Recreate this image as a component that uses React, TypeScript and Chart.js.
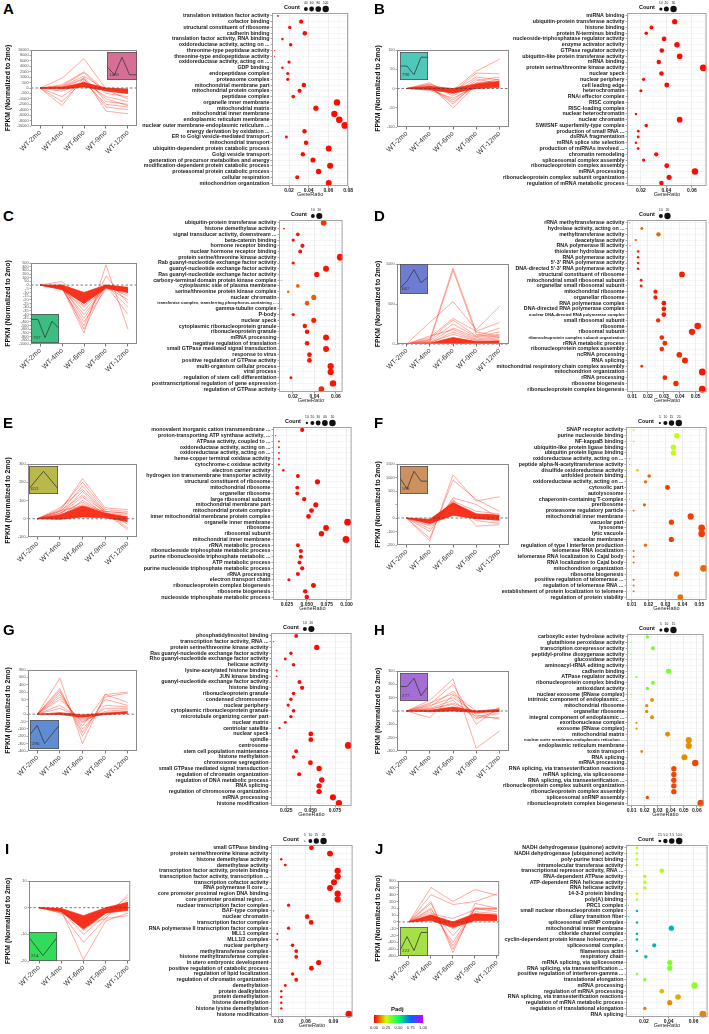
import React, { useEffect, useRef } from "react";
import { Chart, registerables } from "chart.js";
Chart.register(...registerables);

const FONT = "'Liberation Sans', Arial, Helvetica, sans-serif";
const timePoints = ["WT-2mo", "WT-4mo", "WT-6mo", "WT-9mo", "WT-12mo"];
const yTitle = "FPKM (Normalized to 2mo)";

// ---------------- Panel A ----------------
const aYTicks = [-10000, -8000, -6000, -4000, -2000, -1000, -500, 0, 500, 1000, 2000, 4000, 6000, 8000, 10000];
const aLines = [
  [0, 900, 6800, -100, -300],
  [0, 300, 2000, -300, -500],
  [0, 200, 1800, -500, -800],
  [0, -2500, 1000, -1500, -2000],
  [0, 100, 900, -4500, -5500],
  [0, -1500, 700, -3000, -4000],
  [0, -800, 600, -2000, -3000],
  [0, 50, 800, -1000, -2500],
  [0, -300, 500, -800, -1500],
  [0, 150, 1200, -200, -1000],
];
const aBandHigh = [0, 60, 500, 0, -100];
const aBandLow = [0, -100, 100, -250, -500];
const aProfile = [0, -1, 1.2, -1, -1];
const aProfileId = "1480";
const aTerms = [
  "translation initiation factor activity", "cofactor binding", "structural constituent of ribosome", "cadherin binding",
  "translation factor activity, RNA binding", "oxidoreductase activity, acting on ...", "threonine-type peptidase activity",
  "threonine-type endopeptidase activity", "oxidoreductase activity, acting on ...", "GDP binding", "endopeptidase complex",
  "proteasome complex", "mitochondrial membrane part", "mitochondrial protein complex", "peptidase complex",
  "organelle inner membrane", "mitochondrial matrix", "mitochondrial inner membrane", "endoplasmic reticulum membrane",
  "nuclear outer membrane-endoplasmic reticulum ...", "energy derivation by oxidation ...", "ER to Golgi vesicle-mediated transport",
  "mitochondrial transport", "ubiquitin-dependent protein catabolic process", "Golgi vesicle transport",
  "generation of precursor metabolites and energy", "modification-dependent protein catabolic process",
  "proteasomal protein catabolic process", "cellular respiration", "mitochondrion organization",
];
const aRatio = [0.0087, 0.0323, 0.0207, 0.036, 0.0133, 0.0217, 0.0053, 0.0053, 0.02, 0.0133, 0.0187, 0.0187, 0.035, 0.0307, 0.0243, 0.0687, 0.0473, 0.066, 0.071, 0.0767, 0.0357, 0.0173, 0.0373, 0.0603, 0.034, 0.0443, 0.0617, 0.05, 0.0283, 0.0603];
const aPadj = [0.01, 0.01, 0.01, 0.01, 0.01, 0.01, 0.01, 0.01, 0.01, 0.01, 0.01, 0.01, 0.01, 0.01, 0.01, 0.01, 0.01, 0.01, 0.01, 0.01, 0.01, 0.01, 0.01, 0.01, 0.01, 0.01, 0.01, 0.01, 0.01, 0.01];
const aCountLegend = [40, 60, 80, 100];
const aGenes = 1480;

// ---------------- Panel B ----------------
const bYTicks = [-100, -50, 0, 50, 100];
const bLines = [
  [0, 10, -5, 45, 76],
  [0, 5, -10, 40, 38],
  [0, 15, -20, 20, 30],
  [0, 8, -50, 10, 25],
  [0, 3, -40, 15, 20],
  [0, 0, -30, 12, 18],
  [0, -5, -25, 5, 15],
  [0, 12, -15, 25, 12],
  [0, 2, -35, 8, 10],
  [0, 6, -8, 30, 22],
];
const bBandHigh = [0, 5, 0, 12, 18];
const bBandLow = [0, -3, -12, 0, 3];
const bProfile = [0, 0, -1, 1, 1];
const bProfileId = "798";
const bTerms = [
  "miRNA binding", "ubiquitin-protein transferase activity", "histone binding", "protein N-terminus binding",
  "nucleoside-triphosphatase regulator activity", "enzyme activator activity", "GTPase regulator activity",
  "ubiquitin-like protein transferase activity", "mRNA binding", "protein serine/threonine kinase activity", "nuclear speck",
  "nuclear periphery", "cell leading edge", "heterochromatin", "RNAi effector complex", "RISC complex", "RISC-loading complex",
  "nuclear heterochromatin", "nuclear chromatin", "SWI/SNF superfamily-type complex", "production of small RNA ...",
  "dsRNA fragmentation", "mRNA splice site selection", "production of miRNAs involved ...", "chromatin remodeling",
  "spliceosomal complex assembly", "ribonucleoprotein complex assembly", "mRNA processing",
  "ribonucleoprotein complex subunit organization", "regulation of mRNA metabolic process",
];
const bRatio = [0.0096, 0.0465, 0.0283, 0.0242, 0.0382, 0.0483, 0.0364, 0.0504, 0.034, 0.0689, 0.0361, 0.0221, 0.0403, 0.02, 0.0096, 0.0096, 0.0096, 0.0161, 0.0504, 0.0242, 0.0179, 0.0179, 0.0161, 0.0179, 0.032, 0.0221, 0.0403, 0.0624, 0.0421, 0.0361];
const bPadj = [0.01, 0.01, 0.01, 0.01, 0.01, 0.01, 0.01, 0.01, 0.01, 0.01, 0.01, 0.01, 0.01, 0.01, 0.01, 0.01, 0.01, 0.01, 0.01, 0.01, 0.01, 0.01, 0.01, 0.01, 0.01, 0.01, 0.01, 0.01, 0.01, 0.01];
const bCountLegend = [10, 20, 30];
const bGenes = 480;

// ---------------- Panel C ----------------
const cYTicks = [-1000, -900, -800, -700, -600, -500, -400, -45, -40, -35, -30, -25, -20, -15, -10, -5, 0, 50, 100, 200, 300, 400, 500];
const cLines = [
  [0, 50, -20, 0, -5],
  [0, -3, -700, 450, -600],
  [0, -5, -500, 150, -25],
  [0, -2, -45, 0, -30],
  [0, -4, -40, -2, -20],
  [0, -3, -35, -1, -15],
  [0, -6, -30, -3, -12],
  [0, -2, -28, 0, -10],
  [0, -5, -400, -5, -8],
  [0, -1, -600, 0, -40],
];
const cBandHigh = [0, 0, -10, 0, -3];
const cBandLow = [0, -6, -25, -4, -10];
const cProfile = [0, 0, -1, -0.1, -0.5];
const cProfileId = "707";
const cTerms = [
  "ubiquitin-protein transferase activity", "histone demethylase activity", "signal transducer activity, downstream ...",
  "beta-catenin binding", "hormone receptor binding", "nuclear hormone receptor binding", "protein serine/threonine kinase activity",
  "Rab guanyl-nucleotide exchange factor activity", "guanyl-nucleotide exchange factor activity",
  "Ras guanyl-nucleotide exchange factor activity", "carboxy-terminal domain protein kinase complex",
  "cytoplasmic side of plasma membrane", "serine/threonine protein kinase complex", "nuclear chromatin",
  "transferase complex, transferring phosphorus-containing ...", "gamma-tubulin complex", "P-body", "nuclear speck",
  "cytoplasmic ribonucleoprotein granule", "ribonucleoprotein granule", "mRNA processing", "negative regulation of translation",
  "small GTPase mediated signal transduction", "response to virus", "positive regulation of GTPase activity",
  "multi-organism cellular process", "viral process", "regulation of stem cell differentiation",
  "posttranscriptional regulation of gene expression", "regulation of GTPase activity",
];
const cRatio = [0.0486, 0.0117, 0.0246, 0.0203, 0.0289, 0.0268, 0.064, 0.0203, 0.0508, 0.0422, 0.0092, 0.0246, 0.0157, 0.0394, 0.0332, 0.0092, 0.0203, 0.0394, 0.0311, 0.0332, 0.0508, 0.0332, 0.0508, 0.0354, 0.0354, 0.0551, 0.0551, 0.0182, 0.0573, 0.0465];
const cPadj = [0.05, 0.02, 0.02, 0.02, 0.02, 0.02, 0.02, 0.02, 0.02, 0.02, 0.13, 0.1, 0.1, 0.09, 0.09, 0.13, 0.02, 0.03, 0.02, 0.02, 0.02, 0.02, 0.02, 0.02, 0.02, 0.02, 0.02, 0.02, 0.02, 0.04];
const cCountLegend = [10, 20];
const cGenes = 380;

// ---------------- Panel D ----------------
const dYTicks = [0, 500, 1000];
const dLines = [
  [0, 50, 950, 150, 100],
  [0, 30, 920, 120, 80],
  [0, 270, 530, 180, 470],
  [0, 80, 320, 160, 270],
  [0, 60, 300, 100, 200],
  [0, 40, 250, 90, 150],
  [0, 20, 200, 80, 120],
  [0, 100, 180, 60, 100],
  [0, 10, 150, 50, 80],
  [0, 20, 120, 40, 60],
];
const dBandHigh = [0, 10, 80, 30, 40];
const dBandLow = [0, 0, 0, 0, 0];
const dProfile = [0, 0.43, 1.1, 0.33, 0.67];
const dProfileId = "667";
const dTerms = [
  "rRNA methyltransferase activity", "hydrolase activity, acting on ...", "methyltransferase activity", "deacetylase activity",
  "RNA polymerase III activity", "thiolester hydrolase activity", "RNA polymerase activity", "5'-3' RNA polymerase activity",
  "DNA-directed 5'-3' RNA polymerase activity", "structural constituent of ribosome", "mitochondrial small ribosomal subunit",
  "organellar small ribosomal subunit", "mitochondrial ribosome", "organellar ribosome", "RNA polymerase complex",
  "DNA-directed RNA polymerase complex", "nuclear DNA-directed RNA polymerase complex", "small ribosomal subunit", "ribosome",
  "ribosomal subunit", "ribonucleoprotein complex subunit organization", "rRNA metabolic process",
  "ribonucleoprotein complex assembly", "ncRNA processing", "RNA splicing", "mitochondrial respiratory chain complex assembly",
  "mitochondrion organization", "rRNA processing", "ribosome biogenesis", "ribonucleoprotein complex biogenesis",
];
const dRatio = [0.0085, 0.0161, 0.0266, 0.0123, 0.0087, 0.0138, 0.0138, 0.0138, 0.0138, 0.0414, 0.0157, 0.0157, 0.0247, 0.0247, 0.03, 0.03, 0.03, 0.0264, 0.0513, 0.0477, 0.0287, 0.0306, 0.0287, 0.0397, 0.0433, 0.0161, 0.0542, 0.0306, 0.0376, 0.0542];
const dPadj = [0.1, 0.11, 0.1, 0.1, 0.08, 0.03, 0.03, 0.03, 0.03, 0.03, 0.03, 0.03, 0.03, 0.03, 0.02, 0.02, 0.02, 0.04, 0.03, 0.03, 0.04, 0.04, 0.04, 0.04, 0.03, 0.05, 0.02, 0.04, 0.04, 0.02];
const dCountLegend = [10, 20];
const dGenes = 420;

// ---------------- Panel E ----------------
const eYTicks = [-100, 0, 100, 200, 300];
const eLines = [
  [0, 40, 220, 60, 50],
  [0, 50, 200, 50, 40],
  [0, 30, 180, 40, 30],
  [0, 60, 160, 40, -30],
  [0, 20, 150, 30, 20],
  [0, 40, 130, 35, -50],
  [0, 25, 120, 20, 10],
  [0, 10, 100, 30, -60],
  [0, 30, 90, 25, 0],
  [0, 15, 80, 20, -20],
  [0, 45, 70, 40, 30],
];
const eBandHigh = [0, 20, 70, 30, 10];
const eBandLow = [0, -3, 10, 5, -15];
const eProfile = [0, 0.5, 1, 0.5, 0];
const eProfileId = "653";
const eTerms = [
  "monovalent inorganic cation transmembrane ...", "proton-transporting ATP synthase activity, ...", "ATPase activity, coupled to ...",
  "oxidoreductase activity, acting on ...", "oxidoreductase activity, acting on ...", "heme-copper terminal oxidase activity",
  "cytochrome-c oxidase activity", "electron carrier activity", "hydrogen ion transmembrane transporter activity",
  "structural constituent of ribosome", "mitochondrial ribosome", "organellar ribosome", "large ribosomal subunit",
  "mitochondrial membrane part", "mitochondrial protein complex", "inner mitochondrial membrane protein complex",
  "organelle inner membrane", "ribosome", "ribosomal subunit", "mitochondrial inner membrane", "rRNA metabolic process",
  "ribonucleoside triphosphate metabolic process", "purine ribonucleoside triphosphate metabolic ...", "ATP metabolic process",
  "purine nucleoside triphosphate metabolic process", "rRNA processing", "electron transport chain",
  "ribonucleoprotein complex biogenesis", "ribosome biogenesis", "nucleoside triphosphate metabolic process",
];
const eRatio = [0.0442, 0.0108, 0.015, 0.015, 0.015, 0.015, 0.015, 0.0204, 0.0388, 0.0634, 0.038, 0.038, 0.0467, 0.0613, 0.0559, 0.0521, 0.1013, 0.0742, 0.0684, 0.0992, 0.0388, 0.0425, 0.0425, 0.0408, 0.0442, 0.0388, 0.0275, 0.0584, 0.048, 0.05];
const ePadj = [0.01, 0.01, 0.01, 0.01, 0.01, 0.01, 0.01, 0.01, 0.01, 0.01, 0.01, 0.01, 0.01, 0.01, 0.01, 0.01, 0.01, 0.01, 0.01, 0.01, 0.01, 0.01, 0.01, 0.01, 0.01, 0.01, 0.01, 0.01, 0.01, 0.01];
const eCountLegend = [10, 20, 30, 40, 50];
const eGenes = 530;

// ---------------- Panel F ----------------
const fYTicks = [-200, -100, 0, 100, 500, 1000, 1500];
const fHiddenTicks = [100];
const fLines = [
  [0, -170, 1100, 200, 330],
  [0, -150, 900, 250, 50],
  [0, -100, 300, 100, 0],
  [0, -80, 250, -60, -50],
  [0, -50, 200, 50, 30],
  [0, -60, 180, -20, -40],
  [0, -30, 150, 30, 20],
  [0, -40, 120, 0, -20],
  [0, -20, 100, 20, 10],
];
const fBandHigh = [0, -10, 150, 30, 20];
const fBandLow = [0, -40, 20, -5, -15];
const fProfile = [0, -1, 0.63, -0.29, -0.29];
const fProfileId = "508";
const fTerms = [
  "SNAP receptor activity", "purine nucleoside binding", "NF-kappaB binding", "ubiquitin-like protein ligase binding",
  "ubiquitin protein ligase binding", "oxidoreductase activity, acting on ...", "peptide alpha-N-acetyltransferase activity",
  "disulfide oxidoreductase activity", "unfolded protein binding", "oxidoreductase activity, acting on ...", "cytosolic part",
  "autolysosome", "chaperonin-containing T-complex", "preribosome", "proteasome regulatory particle",
  "mitochondrial inner membrane", "vacuolar part", "lysosome", "lytic vacuole", "vacuolar membrane",
  "regulation of type I interferon production", "telomerase RNA localization", "telomerase RNA localization to Cajal body",
  "RNA localization to Cajal body", "mitochondrion organization", "ribosome biogenesis", "positive regulation of telomerase ...",
  "regulation of telomerase RNA ...", "establishment of protein localization to telomere", "regulation of protein stability",
];
const fRatio = [0.0112, 0.0367, 0.0112, 0.0347, 0.0347, 0.0088, 0.0088, 0.0135, 0.0204, 0.0182, 0.0312, 0.0088, 0.0088, 0.0176, 0.0112, 0.0449, 0.0335, 0.0514, 0.0514, 0.0335, 0.0182, 0.0112, 0.0112, 0.0112, 0.0525, 0.0365, 0.0112, 0.0112, 0.0112, 0.0388];
const fPadj = [0.27, 0.27, 0.27, 0.27, 0.27, 0.12, 0.12, 0.2, 0.1, 0.1, 0.06, 0.1, 0.1, 0.09, 0.09, 0.06, 0.06, 0.06, 0.06, 0.06, 0.1, 0.1, 0.1, 0.1, 0.1, 0.1, 0.1, 0.1, 0.1, 0.11];
const fCountLegend = [5, 10, 15, 20];
const fGenes = 420;

// ---------------- Panel G ----------------
const gYTicks = [-400, -300, -200, -100, -50, 0, 25, 50, 200, 400, 600, 800];
const gHiddenTicks = [25];
const gLines = [
  [0, 580, -300, 150, 200],
  [0, 300, -200, 100, 180],
  [0, 250, -150, 50, 30],
  [0, 200, -100, 30, 25],
  [0, 150, -80, 150, 40],
  [0, 100, -60, 20, 20],
  [0, 50, -50, 10, 15],
  [0, 30, -40, 5, 10],
  [0, 20, -30, 0, 8],
];
const gBandHigh = [0, 5, -5, 3, 8];
const gBandLow = [0, -3, -20, -3, 2];
const gProfile = [0, 1, -1, 0, 1];
const gProfileId = "296";
const gTerms = [
  "phosphatidylinositol binding", "transcription factor activity, RNA ...", "protein serine/threonine kinase activity",
  "Ras guanyl-nucleotide exchange factor activity", "Rho guanyl-nucleotide exchange factor activity", "helicase activity",
  "lysine-acetylated histone binding", "JUN kinase binding", "guanyl-nucleotide exchange factor activity", "histone binding",
  "ribonucleoprotein granule", "condensed chromosome", "nuclear periphery", "cytoplasmic ribonucleoprotein granule",
  "microtubule organizing center part", "nuclear matrix", "centriolar satellite", "nuclear speck", "spindle", "centrosome",
  "stem cell population maintenance", "histone methylation", "chromosome segregation", "small GTPase mediated signal transduction",
  "regulation of chromatin organization", "regulation of DNA metabolic process", "RNA splicing",
  "regulation of chromosome organization", "mRNA processing", "histone modification",
];
const gRatio = [0.0352, 0.0121, 0.0563, 0.0298, 0.024, 0.0325, 0.0151, 0.0151, 0.0386, 0.0413, 0.0325, 0.0298, 0.027, 0.0325, 0.0298, 0.024, 0.0182, 0.0502, 0.0502, 0.0886, 0.0352, 0.0325, 0.0498, 0.0587, 0.0383, 0.0614, 0.0587, 0.0587, 0.0729, 0.079];
const gPadj = [0.01, 0.01, 0.01, 0.01, 0.01, 0.01, 0.01, 0.01, 0.01, 0.01, 0.01, 0.01, 0.01, 0.01, 0.01, 0.01, 0.01, 0.01, 0.01, 0.01, 0.01, 0.01, 0.01, 0.01, 0.01, 0.01, 0.01, 0.01, 0.01, 0.01];
const gCountLegend = [10, 20];
const gGenes = 270;

// ---------------- Panel H ----------------
const hYTicks = [-300, -200, -100, 0, 100, 200, 300];
const hLines = [
  [0, 80, 240, -280, -150],
  [0, 50, 200, -100, 30],
  [0, 30, 150, -50, -50],
  [0, -50, 120, -30, -60],
  [0, 40, 100, -20, 20],
  [0, 20, 80, -60, 10],
  [0, 10, 60, -10, 0],
  [0, 60, 130, 0, 15],
  [0, 15, 50, -40, -20],
];
const hBandHigh = [0, 5, 30, 0, 10];
const hBandLow = [0, -5, 0, -10, -5];
const hProfile = [0, 0, 0.9, -1, 0];
const hProfileId = "277";
const hTerms = [
  "carboxylic ester hydrolase activity", "glutathione peroxidase activity", "transcription corepressor activity",
  "peptidyl-proline dioxygenase activity", "glucosidase activity", "aminoacyl-tRNA editing activity", "cadherin binding",
  "ATPase regulator activity", "ribonucleoprotein complex binding", "antioxidant activity", "nuclear exosome (RNase complex)",
  "intrinsic component of endoplasmic ...", "mitochondrial ribosome", "organellar ribosome", "integral component of endoplasmic ...",
  "exoribonuclease complex", "exosome (RNase complex)", "mitochondrial matrix", "nuclear outer membrane-endoplasmic reticulum ...",
  "endoplasmic reticulum membrane", "toxin transport", "RNA splicing", "mRNA processing",
  "RNA splicing, via transesterification reactions", "mRNA splicing, via spliceosome", "RNA splicing, via transesterification ...",
  "ribonucleoprotein complex subunit organization", "ribonucleoprotein complex assembly", "spliceosomal snRNP assembly",
  "ribonucleoprotein complex biogenesis",
];
const hRatio = [0.0221, 0.0095, 0.0264, 0.0095, 0.0095, 0.0095, 0.0383, 0.0138, 0.0264, 0.0221, 0.0095, 0.0257, 0.0216, 0.0216, 0.0257, 0.0138, 0.0138, 0.0376, 0.0538, 0.0538, 0.0178, 0.0505, 0.0588, 0.0424, 0.0424, 0.0424, 0.0424, 0.0424, 0.0221, 0.0631];
const hPadj = [0.36, 0.36, 0.36, 0.36, 0.36, 0.36, 0.36, 0.36, 0.36, 0.36, 0.14, 0.14, 0.14, 0.14, 0.14, 0.14, 0.14, 0.14, 0.14, 0.14, 0.14, 0.14, 0.07, 0.07, 0.07, 0.07, 0.07, 0.07, 0.07, 0.07];
const hCountLegend = [5, 10, 15];
const hGenes = 265;

// ---------------- Panel I ----------------
const iYTicks = [-20, -10, 0, 10];
const iLines = [
  [0, -1, -19.5, -5, -2],
  [0, -2, -13, -4, 5],
  [0, -1, -10, -3, 3],
  [0, -0.5, -8.5, -2, 2],
  [0, -1.5, -7, -4, -3],
  [0, -2, -6, -1, 1],
  [0, -1, -5, -2, 4],
  [0, -0.5, -4, -1, 0],
];
const iBandHigh = [0, -0.3, -3, 0, 2];
const iBandLow = [0, -1.5, -8, -2, -1];
const iProfile = [0, -0.5, -1, -0.5, 0];
const iProfileId = "214";
const iTerms = [
  "small GTPase binding", "protein serine/threonine kinase activity", "histone demethylase activity", "demethylase activity",
  "transcription factor activity, protein binding", "transcription factor activity, transcription ...",
  "transcription cofactor activity", "RNA polymerase II core ...", "core promoter proximal region DNA binding",
  "core promoter proximal region ...", "nuclear transcription factor complex", "BAF-type complex", "nuclear chromatin",
  "transcription factor complex", "RNA polymerase II transcription factor complex", "MLL1 complex", "MLL1/2 complex",
  "nuclear periphery", "methyltransferase complex", "histone methyltransferase complex", "in utero embryonic development",
  "positive regulation of catabolic process", "regulation of lipid localization", "regulation of chromatin organization",
  "demethylation", "protein dealkylation", "protein demethylation", "histone demethylation", "histone lysine demethylation",
  "histone modification",
];
const iRatio = [0.066, 0.0864, 0.0329, 0.0373, 0.0948, 0.0948, 0.0908, 0.0864, 0.0948, 0.0948, 0.0409, 0.0245, 0.0613, 0.0657, 0.0409, 0.0285, 0.0285, 0.0453, 0.0493, 0.0493, 0.074, 0.066, 0.0453, 0.0493, 0.0373, 0.0329, 0.0329, 0.0329, 0.0329, 0.1072];
const iPadj = [0.01, 0.01, 0.01, 0.01, 0.01, 0.01, 0.01, 0.01, 0.01, 0.01, 0.01, 0.01, 0.01, 0.01, 0.01, 0.01, 0.01, 0.01, 0.01, 0.01, 0.01, 0.01, 0.01, 0.01, 0.01, 0.01, 0.01, 0.01, 0.01, 0.01];
const iCountLegend = [5, 10, 15, 20];
const iGenes = 205;

// ---------------- Panel J ----------------
const jYTicks = [-800, -600, -400, -20, -10, 0, 10, 20, 200, 400, 600, 800];
const jLines = [
  [0, 610, 200, 550, 380],
  [0, 400, 120, 200, 420],
  [0, 200, -700, 150, 20],
  [0, 150, -600, 30, 18],
  [0, 20, -500, 20, 15],
  [0, 15, -400, 25, 20],
  [0, 18, -20, 15, 12],
  [0, 10, -10, 12, 10],
  [0, 12, 5, 18, 20],
  [0, 8, -5, 10, 8],
];
const jBandHigh = [0, 10, 0, 12, 10];
const jBandLow = [0, 2, -8, 2, 2];
const jProfile = [0, 1, 0, 1.3, 1.3];
const jProfileId = "223";
const jTerms = [
  "NADH dehydrogenase (quinone) activity", "NADH dehydrogenase (ubiquinone) activity", "poly-purine tract binding",
  "intramolecular transferase activity", "transcriptional repressor activity, RNA ...", "RNA-dependent ATPase activity",
  "ATP-dependent RNA helicase activity", "RNA helicase activity", "14-3-3 protein binding", "poly(A) binding", "PRC1 complex",
  "small nuclear ribonucleoprotein complex", "ciliary transition fiber", "spliceosomal snRNP complex",
  "mitochondrial inner membrane", "chloride channel complex", "cyclin-dependent protein kinase holoenzyme ...",
  "spliceosomal complex", "filamentous actin", "respiratory chain", "mRNA splicing, via spliceosome",
  "RNA splicing, via transesterification ...", "positive regulation of interferon-gamma ...", "translational elongation",
  "mRNA processing", "regulation of mRNA processing", "RNA splicing, via transesterification reactions",
  "regulation of mRNA metabolic process", "regulation of translational elongation", "RNA splicing",
];
const jRatio = [0.0144, 0.0144, 0.0144, 0.0144, 0.0344, 0.0208, 0.0208, 0.0208, 0.0144, 0.0144, 0.0075, 0.0144, 0.0075, 0.0144, 0.0421, 0.0144, 0.0144, 0.0283, 0.0144, 0.0216, 0.0408, 0.0408, 0.0144, 0.0208, 0.0608, 0.0344, 0.0475, 0.0408, 0.0208, 0.0675];
const jPadj = [0.28, 0.28, 0.28, 0.28, 0.28, 0.28, 0.28, 0.28, 0.28, 0.28, 0.62, 0.62, 0.62, 0.62, 0.62, 0.62, 0.62, 0.62, 0.62, 0.6, 0.35, 0.35, 0.35, 0.35, 0.33, 0.18, 0.17, 0.14, 0.12, 0.13];
const jCountLegend = [2.5, 5.0, 7.5, 10.0];
const jGenes = 160;

const padjTicks = ["0.00", "0.25", "0.50", "0.75", "1.00"];

// ---------------- layout config ----------------
const L = 0, R = 370;
const panels = [
  { id: "A", letter: [3, 0], lx: L, box: [31, 50, 137, 126], xr: [-0.41, 4.41], yt: aYTicks, hide: [], lines: aLines, hi: aBandHigh, lo: aBandLow,
    inset: [107, 52, 30, 28], icol: "#d76e96", prof: aProfile, pid: aProfileId,
    dbox: [272, 13, 350, 186], terms: aTerms, ratio: aRatio, padj: aPadj, leg: aCountLegend, legDec: 0, genes: aGenes, range: [0.0027, 0.08], major: 0.02, dec: 2, small: [] },
  { id: "B", letter: [374, 0], lx: R, box: [397, 50, 509, 127], xr: [-0.41, 4.41], yt: bYTicks, hide: [], lines: bLines, hi: bBandHigh, lo: bBandLow,
    inset: [400, 52, 28, 28], icol: "#50c8b9", prof: bProfile, pid: bProfileId,
    dbox: [627, 13, 707, 186], terms: bTerms, ratio: bRatio, padj: bPadj, leg: bCountLegend, legDec: 0, genes: bGenes, range: [0.0091, 0.0715], major: 0.02, dec: 2, small: [] },
  { id: "C", letter: [3, 207], lx: L, box: [31, 263, 137, 344], xr: [-0.41, 4.41], yt: cYTicks, hide: [], lines: cLines, hi: cBandHigh, lo: cBandLow,
    inset: [31, 314, 28, 29], icol: "#3cbe82", prof: cProfile, pid: cProfileId,
    dbox: [279, 220, 343, 392], terms: cTerms, ratio: cRatio, padj: cPadj, leg: cCountLegend, legDec: 0, genes: cGenes, range: [0.0071, 0.0662], major: 0.02, dec: 2, small: [14] },
  { id: "D", letter: [374, 207], lx: R, box: [397, 264, 509, 344], xr: [-0.41, 4.41], yt: dYTicks, hide: [], lines: dLines, hi: dBandHigh, lo: dBandLow,
    inset: [400, 264, 28, 30], icol: "#6e7dd2", prof: dProfile, pid: dProfileId,
    dbox: [627, 220, 707, 392], terms: dTerms, ratio: dRatio, padj: dPadj, leg: dCountLegend, legDec: 0, genes: dGenes, range: [0.0068, 0.0569], major: 0.01, dec: 2, small: [16, 20] },
  { id: "E", letter: [3, 414], lx: L, box: [28, 464, 137, 537], xr: [-0.41, 4.41], yt: eYTicks, hide: [], lines: eLines, hi: eBandHigh, lo: eBandLow,
    inset: [29, 466, 29, 28], icol: "#b9b94b", prof: eProfile, pid: eProfileId,
    dbox: [273, 427, 352, 600], terms: eTerms, ratio: eRatio, padj: ePadj, leg: eCountLegend, legDec: 0, genes: eGenes, range: [0.0075, 0.1063], major: 0.025, dec: 3, small: [] },
  { id: "F", letter: [374, 414], lx: R, box: [397, 464, 509, 545], xr: [-0.41, 4.41], yt: fYTicks, hide: fHiddenTicks, lines: fLines, hi: fBandHigh, lo: fBandLow,
    inset: [400, 466, 28, 28], icol: "#cd915f", prof: fProfile, pid: fProfileId,
    dbox: [626, 427, 707, 600], terms: fTerms, ratio: fRatio, padj: fPadj, leg: fCountLegend, legDec: 0, genes: fGenes, range: [0.0067, 0.0543], major: 0.01, dec: 2, small: [] },
  { id: "G", letter: [3, 621], lx: L, box: [28, 670, 137, 751], xr: [-0.41, 4.41], yt: gYTicks, hide: gHiddenTicks, lines: gLines, hi: gBandHigh, lo: gBandLow,
    inset: [30, 720, 29, 29], icol: "#5f8cd2", prof: gProfile, pid: gProfileId,
    dbox: [271, 633, 352, 806], terms: gTerms, ratio: gRatio, padj: gPadj, leg: gCountLegend, legDec: 0, genes: gGenes, range: [0.0094, 0.092], major: 0.025, dec: 3, small: [] },
  { id: "H", letter: [374, 621], lx: R, box: [397, 671, 509, 751], xr: [-0.41, 4.41], yt: hYTicks, hide: [], lines: hLines, hi: hBandHigh, lo: hBandLow,
    inset: [400, 673, 28, 28], icol: "#a56ed7", prof: hProfile, pid: hProfileId,
    dbox: [627, 634, 704, 806], terms: hTerms, ratio: hRatio, padj: hPadj, leg: hCountLegend, legDec: 0, genes: hGenes, range: [0.0065, 0.0652], major: 0.01, dec: 2, small: [18] },
  { id: "I", letter: [5, 840], lx: L, box: [29, 881, 131, 961], xr: [-0.45, 4.1], yt: iYTicks, hide: [], lines: iLines, hi: iBandHigh, lo: iBandLow,
    inset: [29, 932, 28, 29], icol: "#32dc5a", prof: iProfile, pid: iProfileId,
    dbox: [271, 845, 353, 1017], terms: iTerms, ratio: iRatio, padj: iPadj, leg: iCountLegend, legDec: 0, genes: iGenes, range: [0.0216, 0.1112], major: 0.03, dec: 2, small: [] },
  { id: "J", letter: [375, 840], lx: R, box: [398, 881, 500, 956], xr: [-0.5, 4.1], yt: jYTicks, hide: [], lines: jLines, hi: jBandHigh, lo: jBandLow,
    inset: [400, 927, 28, 29], icol: "#a5e146", prof: jProfile, pid: jProfileId,
    dbox: [626, 845, 708, 1017], terms: jTerms, ratio: jRatio, padj: jPadj, leg: jCountLegend, legDec: 1, genes: jGenes, range: [0.0056, 0.0713], major: 0.02, dec: 2, small: [] },
];

// ---------------- helpers ----------------
function makeMapper(ticks: number[]) {
  const n = ticks.length;
  return (v: number) => {
    if (v <= ticks[0]) return (v - ticks[0]) / (ticks[1] - ticks[0]);
    for (let i = 0; i < n - 1; i++) {
      if (v <= ticks[i + 1]) return i + (v - ticks[i]) / (ticks[i + 1] - ticks[i]);
    }
    return n - 1 + (v - ticks[n - 1]) / (ticks[n - 1] - ticks[n - 2]);
  };
}

const RAINBOW = [[255, 0, 0], [204, 255, 0], [0, 255, 102], [0, 102, 255], [204, 0, 255]];
function padjColor(p: number) {
  const t = Math.max(0, Math.min(1, p)) * 4;
  const i = Math.min(3, Math.floor(t));
  const f = t - i;
  const a = RAINBOW[i], b = RAINBOW[i + 1];
  const c = a.map((v, k) => Math.round(v + (b[k] - v) * f));
  return `rgb(${c[0]},${c[1]},${c[2]})`;
}

const R_MAX = 3.4;
function makeSize(counts: number[]) {
  const cmin = Math.min(...counts), cmax = Math.max(...counts);
  return (c: number) => {
    const t = Math.max(0, Math.min(1, (c - cmin) / (cmax - cmin)));
    return (R_MAX / 6) * Math.sqrt(1 + 35 * t);
  };
}

const boxPlugin = (color: string, lw: number) => ({
  id: "boxFrame",
  afterDraw(chart: any) {
    const { ctx, chartArea: a } = chart;
    ctx.save();
    ctx.strokeStyle = color;
    ctx.lineWidth = lw;
    ctx.strokeRect(a.left + 0.5, a.top + 0.5, a.right - a.left - 1, a.bottom - a.top - 1);
    ctx.restore();
  },
});

// ---------------- line panel ----------------
function LinePanel({ p }: { p: any }) {
  const ref = useRef<HTMLCanvasElement>(null);
  const [bl, bt, br, bb] = p.box;
  const padTop = 16, padRight = 3, xh = 32;
  const w = br - p.lx + padRight;
  const h = bb - bt + padTop + xh;
  useEffect(() => {
    const map = makeMapper(p.yt);
    const labels = p.yt.map((v: number) => (p.hide.includes(v) ? "" : String(v)));
    const toPts = (arr: number[]) => arr.map((v, i) => ({ x: i, y: map(v) }));
    const lineColor = "rgba(255,50,30,0.6)";
    const bandColor = "rgba(248,40,18,0.95)";
    const zeroPlugin = {
      id: "zeroLine",
      afterDatasetsDraw(chart: any) {
        const { ctx, chartArea: a, scales } = chart;
        const y = scales.y.getPixelForValue(map(0));
        ctx.save();
        ctx.strokeStyle = "#444";
        ctx.lineWidth = 0.7;
        ctx.setLineDash([2.5, 2]);
        ctx.beginPath();
        ctx.moveTo(a.left, y);
        ctx.lineTo(a.right, y);
        ctx.stroke();
        ctx.restore();
      },
    };
    const datasets: any[] = [
      { data: toPts(p.hi), borderColor: bandColor, borderWidth: 0.8, pointRadius: 0, fill: false },
      { data: toPts(p.lo), borderColor: bandColor, borderWidth: 0.8, pointRadius: 0, fill: "-1", backgroundColor: bandColor },
      ...p.lines.map((l: number[]) => ({ data: toPts(l), borderColor: lineColor, borderWidth: 0.7, pointRadius: 0, fill: false })),
    ];
    const chart = new Chart(ref.current!, {
      type: "line",
      data: { datasets },
      options: {
        animation: false,
        responsive: false,
        devicePixelRatio: 1,
        events: [],
        layout: { padding: { top: padTop, right: padRight, left: 0, bottom: 0 } },
        plugins: { legend: { display: false }, tooltip: { enabled: false } },
        scales: {
          x: {
            type: "linear",
            min: p.xr[0],
            max: p.xr[1],
            afterBuildTicks: (s: any) => { s.ticks = timePoints.map((_, i) => ({ value: i })); },
            afterFit: (s: any) => { s.height = xh; },
            grid: { display: true, drawOnChartArea: false, drawTicks: true, tickLength: 2.5, color: "#555", lineWidth: 0.8 },
            border: { display: false },
            ticks: {
              autoSkip: false,
              minRotation: 45,
              maxRotation: 45,
              padding: 0,
              color: "#333",
              font: { family: FONT, size: 7 },
              callback: (v: any) => timePoints[v as number] ?? "",
            },
          },
          y: {
            type: "linear",
            min: 0,
            max: p.yt.length - 1,
            afterBuildTicks: (s: any) => { s.ticks = p.yt.map((_: number, i: number) => ({ value: i })); },
            afterFit: (s: any) => { s.width = bl - p.lx; },
            grid: { display: true, drawOnChartArea: false, drawTicks: true, tickLength: 1.5, color: "#666", lineWidth: 0.6 },
            border: { display: false },
            ticks: {
              autoSkip: false,
              padding: 1,
              color: "#555",
              font: { family: FONT, size: 3.8 },
              callback: (v: any) => labels[v as number] ?? "",
            },
            title: {
              display: true,
              text: yTitle,
              color: "#111",
              font: { family: FONT, size: 6.8, weight: "bold" },
              padding: { top: 4.5, bottom: 0 },
            },
          },
        },
      } as any,
      plugins: [zeroPlugin, boxPlugin("#8a8a8a", 1)],
    });
    return () => chart.destroy();
  }, []);
  return (
    <canvas
      ref={ref}
      width={w}
      height={h}
      style={{ position: "absolute", left: p.lx, top: bt - padTop, width: w, height: h }}
    />
  );
}

// ---------------- inset profile ----------------
function Inset({ p }: { p: any }) {
  const ref = useRef<HTMLCanvasElement>(null);
  const [x, y, w, h] = p.inset;
  useEffect(() => {
    const mn = Math.min(...p.prof), mx = Math.max(...p.prof);
    const pad = (mx - mn) * 0.3 || 1;
    const bg = {
      id: "insetBg",
      beforeDraw(chart: any) {
        const { ctx, width, height } = chart;
        ctx.save();
        ctx.fillStyle = p.icol;
        ctx.fillRect(0, 0, width, height);
        ctx.restore();
      },
      afterDraw(chart: any) {
        const { ctx, width, height } = chart;
        ctx.save();
        ctx.strokeStyle = "#555";
        ctx.lineWidth = 0.8;
        ctx.strokeRect(0.4, 0.4, width - 0.8, height - 0.8);
        ctx.restore();
      },
    };
    const chart = new Chart(ref.current!, {
      type: "line",
      data: { datasets: [{ data: p.prof.map((v: number, i: number) => ({ x: i, y: v })), borderColor: "#3a3a3a", borderWidth: 0.8, pointRadius: 0, fill: false }] },
      options: {
        animation: false,
        responsive: false,
        devicePixelRatio: 1,
        events: [],
        layout: { padding: 0 },
        plugins: { legend: { display: false }, tooltip: { enabled: false } },
        scales: {
          x: { type: "linear", min: 0, max: 4, display: false },
          y: { type: "linear", min: mn - pad, max: mx + pad, display: false },
        },
      } as any,
      plugins: [bg],
    });
    return () => chart.destroy();
  }, []);
  return (
    <>
      <canvas ref={ref} width={w} height={h} style={{ position: "absolute", left: x, top: y, width: w, height: h }} />
      <div
        style={{
          position: "absolute",
          left: x + 2,
          top: y + h - 8,
          font: "5px 'Liberation Serif', serif",
          color: "#333",
          lineHeight: "6px",
          whiteSpace: "nowrap",
        }}
      >
        {p.pid}
      </div>
    </>
  );
}

// ---------------- dot panel ----------------
function DotPanel({ p }: { p: any }) {
  const ref = useRef<HTMLCanvasElement>(null);
  const [bl, bt, br, bb] = p.dbox;
  const yw = 172, padTop = 14, padRight = 3, xh = 12;
  const w = yw + (br - bl) + padRight;
  const h = padTop + (bb - bt) + xh;
  useEffect(() => {
    const counts = p.ratio.map((r: number) => r * p.genes);
    const size = makeSize(counts);
    const minor = p.major / 2;
    const isMajor = (v: number) => Math.abs(v / p.major - Math.round(v / p.major)) < 1e-6;
    const legendPlugin = {
      id: "countLegend",
      afterDraw(chart: any) {
        const { ctx, chartArea: a } = chart;
        ctx.save();
        ctx.fillStyle = "#111";
        ctx.textBaseline = "middle";
        ctx.textAlign = "left";
        ctx.font = `bold 5.5px ${FONT}`;
        const x0 = a.left + 12;
        ctx.fillText("Count", x0, a.top - 6);
        let x = x0 + ctx.measureText("Count").width + 6;
        let prev = 0;
        p.leg.forEach((c: number, i: number) => {
          const r = size(c * 1.0);
          if (i > 0) x += Math.max(prev + r + 1.4, 5.5);
          ctx.beginPath();
          ctx.arc(x, a.top - 4, r, 0, Math.PI * 2);
          ctx.fill();
          ctx.font = `3.2px ${FONT}`;
          ctx.textAlign = "center";
          ctx.fillText(c.toFixed(p.legDec), x, a.top - 9.5);
          prev = r;
        });
        ctx.restore();
      },
    };
    const chart = new Chart(ref.current!, {
      type: "scatter",
      data: {
        datasets: [
          {
            data: p.ratio.map((r: number, i: number) => ({ x: r, y: i })),
            pointRadius: counts.map((c: number) => size(c)),
            pointBackgroundColor: p.padj.map((v: number) => padjColor(v)),
            pointBorderWidth: 0,
            pointHoverRadius: 0,
          },
        ],
      },
      options: {
        animation: false,
        responsive: false,
        devicePixelRatio: 1,
        events: [],
        layout: { padding: { top: padTop, right: padRight, left: 0, bottom: 0 } },
        plugins: { legend: { display: false }, tooltip: { enabled: false } },
        scales: {
          x: {
            type: "linear",
            min: p.range[0],
            max: p.range[1],
            afterBuildTicks: (s: any) => {
              const t: any[] = [];
              for (let v = Math.ceil(p.range[0] / minor - 1e-9) * minor; v <= p.range[1] + 1e-12; v += minor) {
                t.push({ value: Math.round(v * 1e6) / 1e6 });
              }
              s.ticks = t;
            },
            afterFit: (s: any) => { s.height = xh; },
            grid: {
              display: true,
              drawOnChartArea: true,
              drawTicks: true,
              tickLength: 1.5,
              lineWidth: (c: any) => (c.tick && isMajor(c.tick.value) ? 0.6 : 0.35),
              color: (c: any) => (c.tick && isMajor(c.tick.value) ? "#e2e2e2" : "#efefef"),
              tickColor: (c: any) => (c.tick && isMajor(c.tick.value) ? "#444" : "rgba(0,0,0,0)"),
            },
            border: { display: false },
            ticks: {
              autoSkip: false,
              maxRotation: 0,
              padding: 0,
              color: "#222",
              font: { family: FONT, size: 5, weight: "bold" },
              callback: (v: any) => (isMajor(v as number) ? (v as number).toFixed(p.dec) : ""),
            },
            title: {
              display: true,
              text: "GeneRatio",
              color: "#222",
              font: { family: FONT, size: 5.5 },
              padding: { top: 0, bottom: 0 },
            },
          },
          y: {
            type: "category",
            labels: p.terms,
            offset: true,
            afterFit: (s: any) => { s.width = yw; },
            grid: { display: true, offset: false, drawOnChartArea: true, drawTicks: true, tickLength: 1.5, color: "#ececec", lineWidth: 0.5, tickColor: "#444" },
            border: { display: false },
            ticks: {
              autoSkip: false,
              padding: 1,
              color: "#1a1a1a",
              font: (c: any) => ({ family: FONT, size: p.small.includes(c.index) ? 4.2 : 5.3, weight: "bold" }),
            },
          },
        },
      } as any,
      plugins: [legendPlugin, boxPlugin("#9a9a9a", 0.9)],
    });
    return () => chart.destroy();
  }, []);
  return (
    <canvas
      ref={ref}
      width={w}
      height={h}
      style={{ position: "absolute", left: bl - yw, top: bt - padTop, width: w, height: h }}
    />
  );
}

function PadjBar() {
  return (
    <div style={{ position: "absolute", left: 370, top: 1006, width: 60 }}>
      <div style={{ position: "absolute", left: 21, top: 0, font: `bold 6px ${FONT}`, color: "#111", whiteSpace: "nowrap" }}>Padj</div>
      <div
        style={{
          position: "absolute",
          left: 4,
          top: 9,
          width: 49,
          height: 8,
          background: "linear-gradient(to right, #FF0000, #CCFF00, #00FF66, #0066FF, #CC00FF)",
        }}
      />
      {padjTicks.map((t, i) => (
        <div
          key={t}
          style={{
            position: "absolute",
            left: 4 + (i * 49) / 4 - 6,
            width: 12,
            textAlign: "center",
            top: 18.5,
            font: `4px ${FONT}`,
            color: "#222",
          }}
        >
          {t}
        </div>
      ))}
    </div>
  );
}

export default function App() {
  return (
    <div style={{ position: "absolute", left: 0, top: 0, width: 709, height: 1034, background: "#fff", overflow: "hidden" }}>
      {panels.map((p) => (
        <React.Fragment key={p.id}>
          <div
            style={{
              position: "absolute",
              left: p.letter[0],
              top: p.letter[1] + 0.5,
              font: `bold 15px ${FONT}`,
              lineHeight: "15px",
              color: "#000",
            }}
          >
            {p.id}
          </div>
          <LinePanel p={p} />
          <Inset p={p} />
          <DotPanel p={p} />
        </React.Fragment>
      ))}
      <PadjBar />
    </div>
  );
}
